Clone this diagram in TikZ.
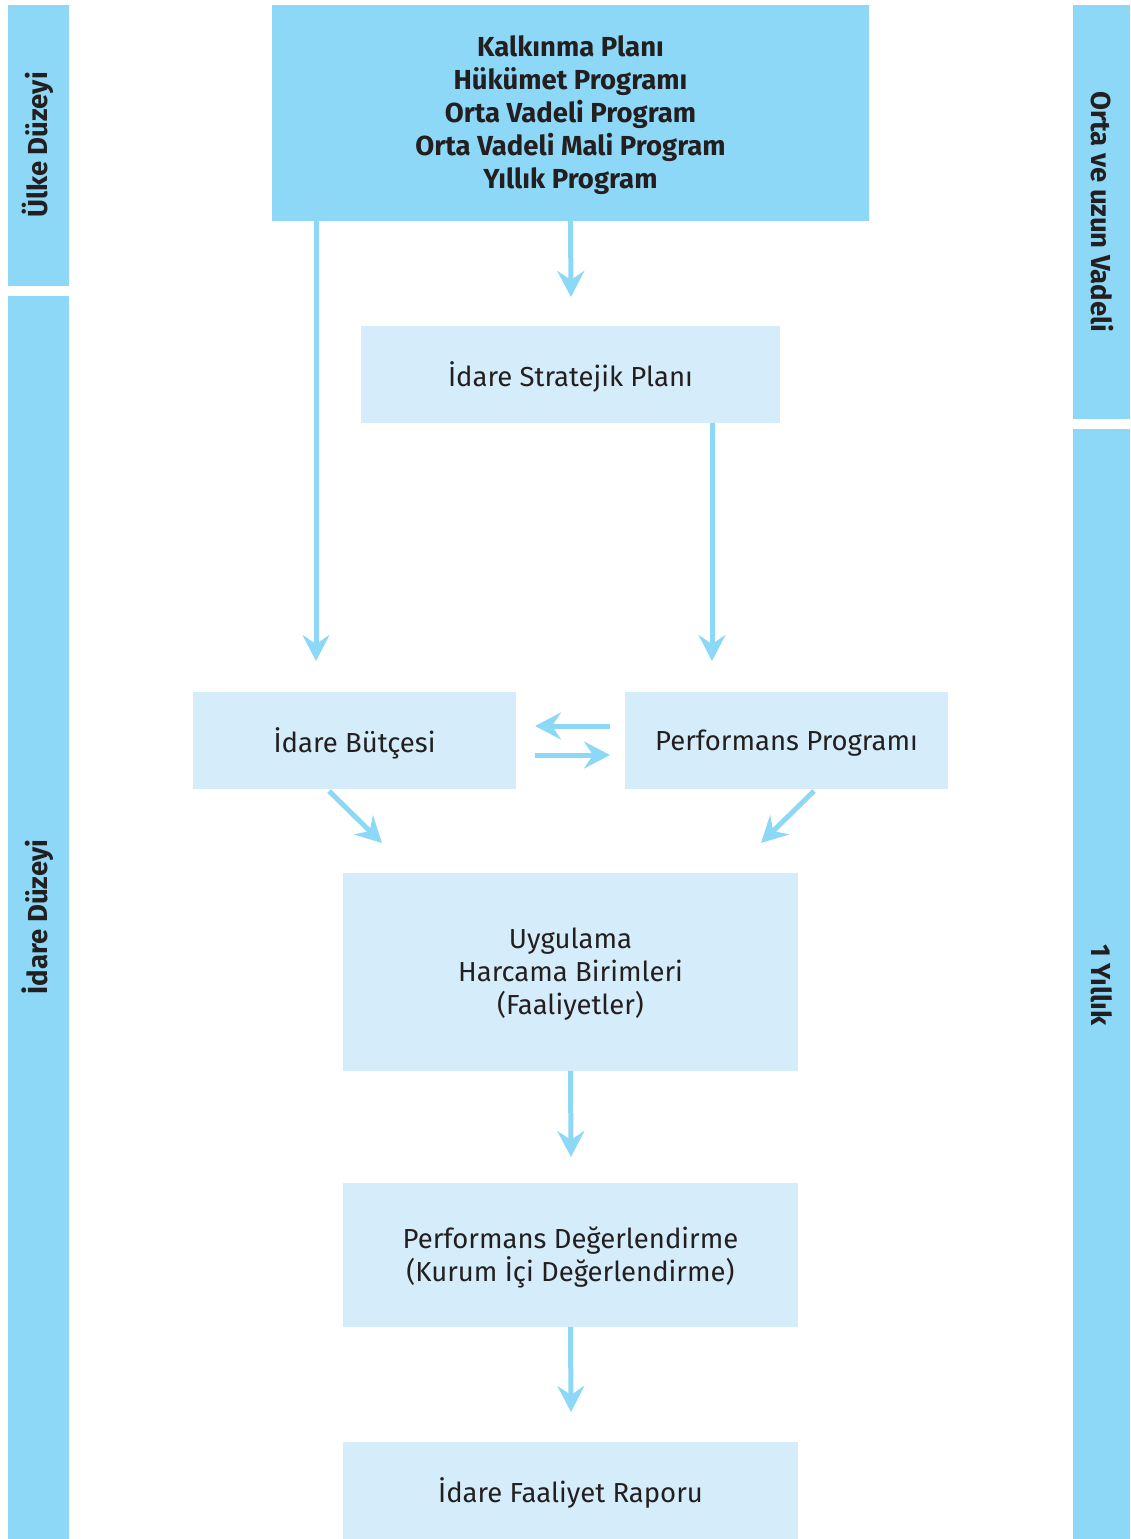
\documentclass[tikz,border=0pt]{standalone}
\usepackage{fontspec}
\setmainfont{Fira Sans}
\usetikzlibrary{arrows.meta}
\definecolor{barblue}{HTML}{8DD8F6}
\definecolor{boxblue}{HTML}{D5EDFA}
\definecolor{txtgray}{HTML}{231F20}
\begin{document}
\begin{tikzpicture}[x=1pt,y=-1pt,
  bar/.style={fill=barblue,draw=none},
  lbox/.style={fill=boxblue,draw=none,inner sep=0pt},
  dbox/.style={fill=barblue,draw=none,inner sep=0pt},
  txt/.style={font=\fontsize{27.5}{33}\selectfont,align=center,text=txtgray,yshift=-2.5pt},
  btxt/.style={font=\fontsize{27.5}{33}\selectfont\bfseries,align=center,text=txtgray},
  arr/.style={draw=barblue,line width=5pt,-{Stealth[length=26pt,width=27pt,inset=9pt]}}]
\useasboundingbox (0,0) rectangle (1130,1539);
% side bars
\fill[bar] (8,5) rectangle (69,286);
\fill[bar] (8,296) rectangle (69,1539);
\fill[bar] (1073,5) rectangle (1130,419);
\fill[bar] (1073,429) rectangle (1130,1539);
\node[btxt,rotate=90] (ulke) at (38,145) {Ülke Düzeyi};
\node[btxt,rotate=90] (idare) at (38,917) {İdare Düzeyi};
\node[btxt,rotate=-90] (orta) at (1102,212) {Orta ve uzun Vadeli};
\node[btxt,rotate=-90] (yillik) at (1102,985) {1 Yıllık};
% boxes
\node[dbox,minimum width=597pt,minimum height=216pt] (top) at (570.5,113) {};
\node[btxt,yshift=-2.5pt] at (top.center) {Kalkınma Planı\\Hükümet Programı\\Orta Vadeli Program\\Orta Vadeli Mali Program\\Yıllık Program};
\node[lbox,minimum width=419pt,minimum height=97pt] (isp) at (570.5,374.5) {};
\node[txt] at (isp.center) {İdare Stratejik Planı};
\node[lbox,minimum width=323pt,minimum height=97pt] (butce) at (354.5,740.5) {};
\node[txt] at (butce.center) {İdare Bütçesi};
\node[lbox,minimum width=323pt,minimum height=97pt] (perf) at (786.5,740.5) {};
\node[txt] at (perf.center) {Performans Programı};
\node[lbox,minimum width=455pt,minimum height=198pt] (uyg) at (570.5,972) {};
\node[txt] at (uyg.center) {Uygulama\\Harcama Birimleri\\(Faaliyetler)};
\node[lbox,minimum width=455pt,minimum height=144pt] (pd) at (570.5,1255) {};
\node[txt] at (pd.center) {Performans Değerlendirme\\(Kurum İçi Değerlendirme)};
\node[lbox,minimum width=455pt,minimum height=97pt] (far) at (570.5,1490.5) {};
\node[txt] at (far.center) {İdare Faaliyet Raporu};
% arrows
\coordinate (a1) at (571,297);
\coordinate (a2) at (316,661);
\coordinate (a3) at (712,661);
\draw[arr] (top.south) -- (a1);
\draw[arr] (top.south -| a2) -- (a2);
\draw[arr] (isp.south -| a3) -- (a3);
\coordinate (l1) at (610,726);
\coordinate (l2) at (535,726);
\coordinate (r1) at (535,755);
\coordinate (r2) at (610,755);
\draw[arr] (l1) -- (l2);
\draw[arr] (r1) -- (r2);
\coordinate (d1s) at (329,791);
\coordinate (d1e) at (382,843);
\coordinate (d2s) at (814,791);
\coordinate (d2e) at (761,843);
\draw[arr] (d1s) -- (d1e);
\draw[arr] (d2s) -- (d2e);
\coordinate (a4) at (571,1157);
\coordinate (a5) at (571,1412);
\draw[arr] (uyg.south) -- (a4);
\draw[arr] (pd.south) -- (a5);
\end{tikzpicture}
\end{document}
